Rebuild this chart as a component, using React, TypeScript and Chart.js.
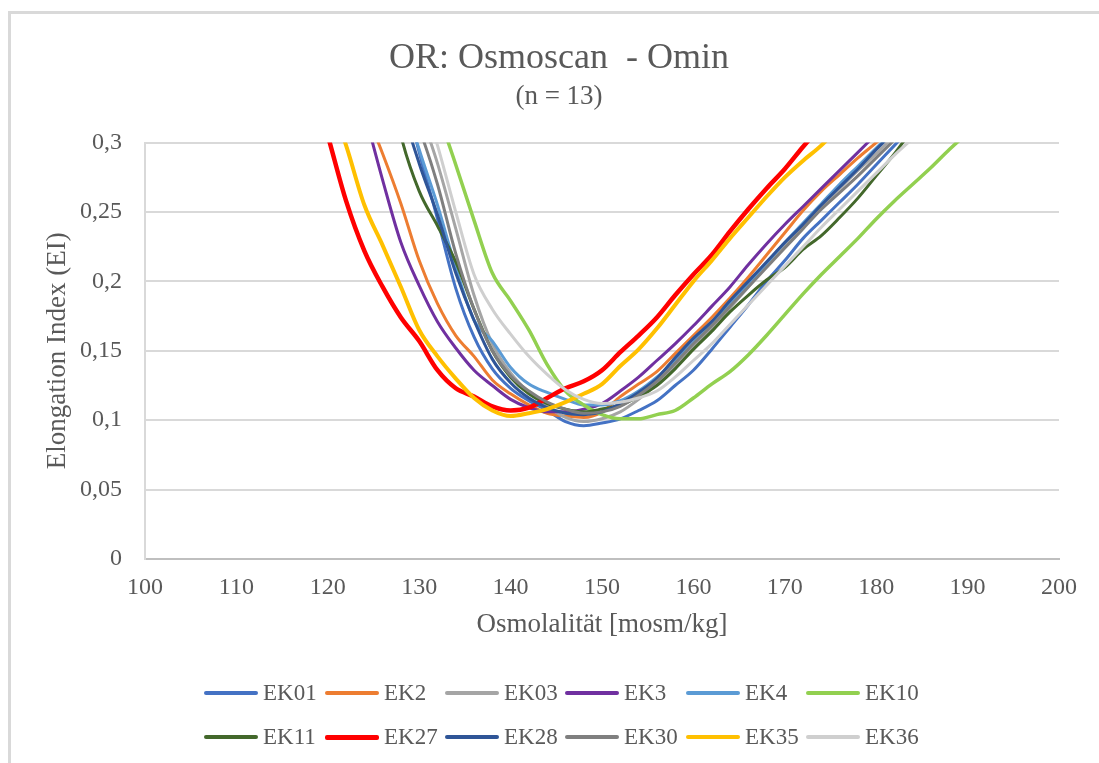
import React, { useEffect, useRef } from "react";
import { Chart, registerables } from "chart.js";

Chart.register(...registerables);

// Osmolality grid (mosm/kg)
const osmolality = [
  118, 120, 122, 124, 126, 128, 130, 132, 134, 136, 138, 140, 142, 144, 146, 148, 150, 152, 154,
  156, 158, 160, 162, 164, 166, 168, 170, 172, 174, 176, 178, 180, 182, 184, 186, 188, 190,
];

const n = null;
//            118 120 122  124    126    128    130    132    134    136    138    140    142    144    146    148    150    152    154    156    158    160    162    164    166    168    170    172    174    176    178    180    182    184    186  188  190
const ek01 = [n, n, n, n, 0.39, 0.345, 0.293, 0.245, 0.195, 0.16, 0.137, 0.123, 0.114, 0.107, 0.099, 0.096, 0.098, 0.101, 0.107, 0.114, 0.125, 0.136, 0.151, 0.167, 0.183, 0.2, 0.215, 0.231, 0.244, 0.257, 0.27, 0.284, 0.298, 0.312, n, n, n];
const ek2 = [n, n, 0.36, 0.325, 0.292, 0.256, 0.215, 0.184, 0.161, 0.146, 0.129, 0.119, 0.111, 0.105, 0.103, 0.102, 0.106, 0.117, 0.126, 0.135, 0.148, 0.161, 0.174, 0.188, 0.203, 0.219, 0.235, 0.251, 0.265, 0.277, 0.289, 0.3, 0.312, n, n, n, n];
const ek03 = [n, n, n, n, n, 0.37, 0.325, 0.285, 0.238, 0.19, 0.155, 0.134, 0.12, 0.11, 0.102, 0.099, 0.101, 0.106, 0.115, 0.126, 0.139, 0.152, 0.166, 0.181, 0.196, 0.211, 0.226, 0.24, 0.254, 0.267, 0.28, 0.292, 0.305, n, n, n, n];
const ek3 = [n, n, 0.37, 0.322, 0.273, 0.228, 0.197, 0.171, 0.152, 0.136, 0.125, 0.115, 0.109, 0.106, 0.106, 0.108, 0.112, 0.121, 0.131, 0.143, 0.155, 0.168, 0.182, 0.196, 0.212, 0.227, 0.241, 0.254, 0.267, 0.28, 0.293, 0.306, n, n, n, n, n];
const ek4 = [n, n, n, n, 0.4, 0.34, 0.295, 0.255, 0.21, 0.172, 0.157, 0.138, 0.126, 0.12, 0.115, 0.111, 0.111, 0.114, 0.121, 0.131, 0.143, 0.156, 0.17, 0.184, 0.198, 0.213, 0.228, 0.242, 0.256, 0.27, 0.283, 0.296, 0.309, n, n, n, n];
const ek10 = [n, n, n, n, n, n, 0.38, 0.325, 0.284, 0.244, 0.206, 0.186, 0.165, 0.14, 0.121, 0.111, 0.104, 0.101, 0.101, 0.104, 0.107, 0.116, 0.126, 0.135, 0.147, 0.161, 0.176, 0.191, 0.205, 0.218, 0.231, 0.245, 0.258, 0.27, 0.282, 0.295, 0.307];
const ek11 = [n, n, n, n, 0.37, 0.305, 0.265, 0.24, 0.214, 0.18, 0.15, 0.131, 0.119, 0.112, 0.108, 0.106, 0.108, 0.111, 0.117, 0.125, 0.137, 0.151, 0.164, 0.178, 0.19, 0.201, 0.21, 0.223, 0.233, 0.246, 0.26, 0.276, 0.292, 0.31, n, n, n];
const ek27 = [0.35, 0.305, 0.258, 0.222, 0.196, 0.174, 0.157, 0.136, 0.123, 0.117, 0.11, 0.107, 0.109, 0.116, 0.123, 0.128, 0.136, 0.149, 0.161, 0.174, 0.19, 0.205, 0.219, 0.236, 0.252, 0.267, 0.281, 0.297, 0.312, n, n, n, n, n, n, n, n];
const ek28 = [n, n, n, n, 0.4, 0.33, 0.285, 0.248, 0.206, 0.172, 0.144, 0.127, 0.116, 0.109, 0.105, 0.104, 0.106, 0.112, 0.12, 0.13, 0.145, 0.159, 0.171, 0.186, 0.2, 0.214, 0.228, 0.241, 0.255, 0.268, 0.281, 0.295, 0.308, n, n, n, n];
const ek30 = [n, n, n, n, n, 0.34, 0.31, 0.27, 0.22, 0.18, 0.15, 0.132, 0.121, 0.113, 0.108, 0.105, 0.106, 0.11, 0.118, 0.128, 0.141, 0.155, 0.168, 0.182, 0.196, 0.21, 0.224, 0.238, 0.252, 0.264, 0.276, 0.289, 0.302, n, n, n, n];
const ek35 = [n, 0.335, 0.298, 0.255, 0.226, 0.196, 0.165, 0.146, 0.13, 0.116, 0.107, 0.103, 0.105, 0.108, 0.113, 0.119, 0.126, 0.139, 0.151, 0.166, 0.183, 0.2, 0.215, 0.231, 0.246, 0.261, 0.275, 0.287, 0.298, 0.312, n, n, n, n, n, n, n];
const ek36 = [n, n, n, n, n, 0.39, 0.34, 0.298, 0.25, 0.205, 0.18, 0.162, 0.146, 0.133, 0.122, 0.115, 0.112, 0.113, 0.116, 0.121, 0.131, 0.143, 0.155, 0.169, 0.183, 0.197, 0.211, 0.225, 0.239, 0.252, 0.265, 0.278, 0.291, 0.303, n, n, n];

const seriesNames = ["EK01", "EK2", "EK03", "EK3", "EK4", "EK10", "EK11", "EK27", "EK28", "EK30", "EK35", "EK36"];
const seriesValues = [ek01, ek2, ek03, ek3, ek4, ek10, ek11, ek27, ek28, ek30, ek35, ek36];
const seriesColors = [
  "#4472C4", "#ED7D31", "#A5A5A5", "#7030A0", "#5B9BD5", "#92D050",
  "#43682B", "#FF0000", "#2F5597", "#7F7F7F", "#FFC000", "#CFCFCF",
];
const seriesWidths = [3, 3, 3, 3, 3, 3.5, 3, 4.5, 3, 3, 4, 3];

const yTickLabels = ["0", "0,05", "0,1", "0,15", "0,2", "0,25", "0,3"];
const xTickLabels = ["100", "110", "120", "130", "140", "150", "160", "170", "180", "190", "200"];

const FONT = "'Liberation Serif', 'Times New Roman', serif";
const TEXT = "#595959";

export default function App() {
  const canvasRef = useRef<HTMLCanvasElement | null>(null);

  useEffect(() => {
    const canvas = canvasRef.current;
    if (!canvas) return;
    const chart = new Chart(canvas, {
      type: "line",
      data: {
        datasets: seriesNames.map((name, i) => ({
          label: name,
          data: osmolality.map((x, j) => ({ x, y: seriesValues[i][j] })),
          borderColor: seriesColors[i],
          backgroundColor: seriesColors[i],
          borderWidth: seriesWidths[i],
          pointRadius: 0,
          cubicInterpolationMode: "monotone",
          fill: false,
          spanGaps: false,
          order: -i,
          yAxisID: "y",
        })),
      },
      options: {
        responsive: false,
        animation: false,
        events: [],
        layout: { padding: { left: 19, right: 0, top: 0, bottom: 122 } },
        plugins: {
          legend: { display: false },
          tooltip: { enabled: false },
          title: {
            display: true,
            text: "OR: Osmoscan  - Omin",
            color: TEXT,
            font: { family: FONT, size: 36, weight: "normal" },
            padding: { top: 37, bottom: 0 },
          },
          subtitle: {
            display: true,
            text: "(n = 13)",
            color: TEXT,
            font: { family: FONT, size: 27, weight: "normal" },
            padding: { top: 1, bottom: 29 },
          },
        },
        scales: {
          x: {
            type: "linear",
            min: 100,
            max: 200,
            ticks: {
              stepSize: 10,
              color: TEXT,
              font: { family: FONT, size: 24 },
              padding: 14,
              maxRotation: 0,
              callback: (v: any) => xTickLabels[Math.round((Number(v) - 100) / 10)] ?? "",
            },
            grid: { display: false, drawTicks: false },
            border: { display: true, color: "#BFBFBF", width: 2 },
            title: {
              display: true,
              text: "Osmolalität [mosm/kg]",
              color: TEXT,
              font: { family: FONT, size: 27 },
              padding: { top: 0, bottom: 0 },
            },
            afterFit: (s: any) => {
              s.height = 82;
            },
          },
          y: {
            type: "linear",
            position: "left",
            min: 0,
            max: 0.3,
            ticks: {
              stepSize: 0.05,
              color: TEXT,
              font: { family: FONT, size: 24 },
              padding: 23,
              callback: (_v: any, i: number) => yTickLabels[i] ?? "",
            },
            grid: { color: "#D9D9D9", lineWidth: 2, drawTicks: false },
            border: { display: true, color: "#D9D9D9", width: 2 },
            title: {
              display: true,
              text: "Elongation Index (EI)",
              color: TEXT,
              font: { family: FONT, size: 27 },
              padding: { top: 23, bottom: 0 },
            },
            afterFit: (s: any) => {
              s.width = 126;
            },
          },
          yRight: {
            type: "linear",
            position: "right",
            min: 0,
            max: 0.3,
            ticks: { display: false },
            grid: { display: false, drawTicks: false },
            border: { display: false },
            afterFit: (s: any) => {
              s.width = 40;
            },
          },
        },
      } as any,
    });
    return () => chart.destroy();
  }, []);

  const colLefts = [204, 325, 445, 565, 686, 806];
  const rowTops = [679, 723];

  return (
    <div>
      <div
        style={{
          position: "fixed",
          left: 8,
          top: 11,
          width: 1300,
          height: 900,
          borderTop: "3px solid #D9D9D9",
          borderLeft: "3px solid #D9D9D9",
          zIndex: 0,
        }}
      />
      <canvas
        ref={canvasRef}
        width={1099}
        height={763}
        style={{ position: "fixed", left: 0, top: 0, width: 1099, height: 763, zIndex: 1 }}
      />
      {seriesNames.map((name, i) => (
        <div
          key={name}
          style={{
            position: "fixed",
            left: colLefts[i % 6],
            top: rowTops[Math.floor(i / 6)],
            height: 28,
            display: "flex",
            alignItems: "center",
            zIndex: 2,
            fontFamily: FONT,
            fontSize: 23,
            color: TEXT,
            whiteSpace: "nowrap",
          }}
        >
          <span
            style={{
              display: "inline-block",
              width: 54,
              height: i === 7 ? 5 : 4,
              borderRadius: 2,
              background: seriesColors[i],
              marginRight: 5,
            }}
          />
          <span>{name}</span>
        </div>
      ))}
    </div>
  );
}
